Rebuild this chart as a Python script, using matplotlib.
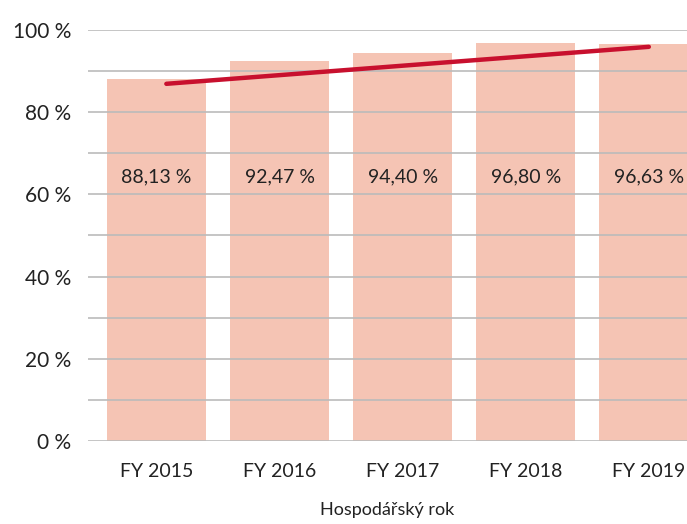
import matplotlib
matplotlib.use('Agg')
from matplotlib import pyplot as plt

plt.rcParams['font.family'] = ['Lato', 'DejaVu Sans']

years = ['FY 2015', 'FY 2016', 'FY 2017', 'FY 2018', 'FY 2019']
values = [88.13, 92.47, 94.40, 96.80, 96.63]
labels = ['88,13 %', '92,47 %', '94,40 %', '96,80 %', '96,63 %']
# trend line (start and end)
trend_x = [0.08, 4.0]
trend_y = [86.9, 95.9]

fig = plt.figure(figsize=(6.87, 5.24), dpi=100)
ax = fig.add_axes([0.128, 0.1584, 0.872, 0.7844])

x = list(range(len(years)))
ax.bar(x, values, width=0.805, color='#F5C4B4', zorder=1)
ax.plot(trend_x, trend_y, color='#C8102E', linewidth=3.2,
        solid_capstyle='round', zorder=3)

for xi, lab in zip(x, labels):
    ax.text(xi, 64.3, lab, ha='center', va='center', fontsize=14, color='#222222', zorder=4)

ax.set_xlim(-0.557, 4.31)
ax.set_ylim(0, 100)
ax.set_yticks(range(0, 101, 20))
ax.set_yticklabels([f'{v} %' for v in range(0, 101, 20)])
ax.set_yticks(range(10, 100, 20), minor=True)
ax.set_xticks(x)
ax.set_xticklabels(years)
ax.tick_params(axis='both', which='both', length=0, colors='#222222')
ax.tick_params(axis='y', labelsize=15, pad=12)
ax.tick_params(axis='x', labelsize=14, pad=16)
ax.grid(axis='y', which='both', color='#BBBBBB', linewidth=1.2, zorder=2)
ax.set_axisbelow(False)
for s in ax.spines.values():
    s.set_visible(False)
ax.set_xlabel('Hospodářský rok', fontsize=13, color='#222222', labelpad=16)

plt.savefig('out.png', dpi=100)
